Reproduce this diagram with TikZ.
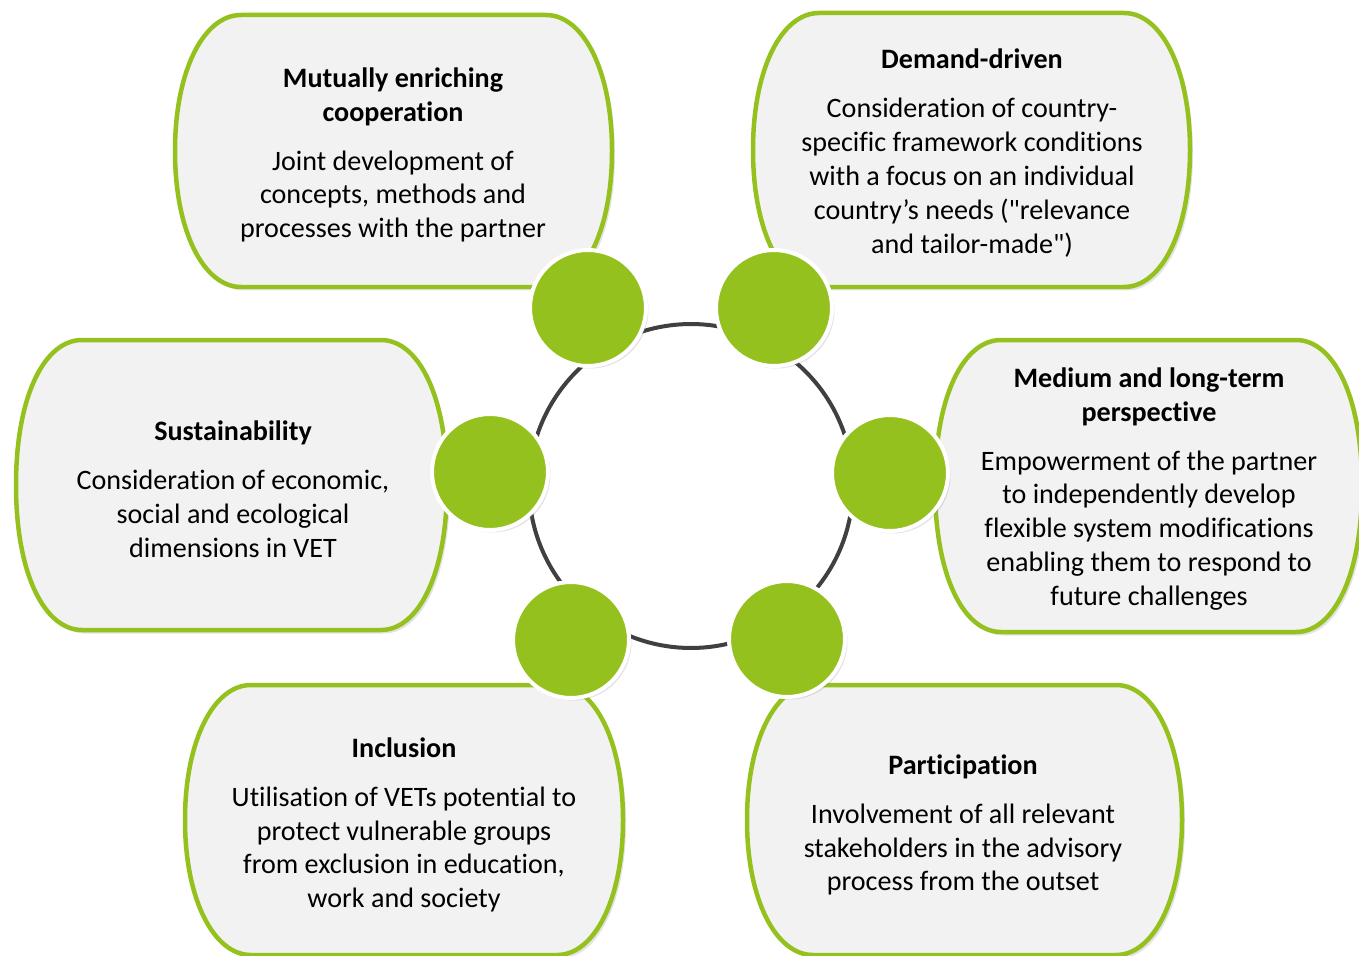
\documentclass[tikz,border=0pt]{standalone}
\usepackage{fontspec}
\setmainfont{Carlito}[Ligatures={NoCommon}]
\newfontfamily\qtfont{Carlito}
\usepackage{xcolor}
\usepackage{tikz}
\usetikzlibrary{shadows}
\usetikzlibrary{positioning}
\definecolor{vgreen}{RGB}{149,193,31}
\definecolor{boxgray}{RGB}{242,242,242}
\definecolor{ringgray}{RGB}{64,64,64}
\tikzset{
    plaque/.style = {draw=vgreen, line width=0.09cm, fill=boxgray, drop shadow={opacity=0.22, shadow xshift=0.06cm, shadow yshift=-0.07cm}},
    dot/.style = {circle, draw=white, fill=vgreen, line width=0.08cm, minimum size=2.32cm, inner sep=0pt, drop shadow={opacity=0.22, shadow xshift=0.05cm, shadow yshift=-0.05cm}},
    hub/.style = {circle, draw=ringgray, fill=white, line width=0.08cm, minimum size=6.48cm, inner sep=0pt},
    boxtext/.style = {align=center, inner sep=0pt, font=\fontsize{16}{19.3}\selectfont},
}
\newcommand{\qt}{{\qtfont"}}
% left, top, right, bottom in px
\newcommand{\plaque}[4]{%
    \draw[plaque] (#1+66,#2) -- (#3-66,#2)
        .. controls (#3-29,#2) and (#3,#2+55) .. (#3,{(#2+#4)/2})
        .. controls (#3,#4-55) and (#3-29,#4) .. (#3-66,#4)
        -- (#1+66,#4)
        .. controls (#1+29,#4) and (#1,#4-55) .. (#1,{(#2+#4)/2})
        .. controls (#1,#2+55) and (#1+29,#2) .. cycle;
}
\begin{document}
\begin{tikzpicture}[
    x=0.02cm, y=-0.02cm
]
\useasboundingbox (0,0) rectangle (1359,956);
\clip (0,0) rectangle (1359,956);
\plaque{175}{15}{612}{287}
\plaque{753}{13}{1190}{287}
\plaque{16}{340}{447}{630}
\plaque{935}{340}{1362}{632}
\plaque{185}{685}{623}{955}
\plaque{747}{685}{1182}{955}
\node[hub] at (691,486) (centre) {};
\node[dot] at (588,308) (d1) {};
\node[dot] at (774,308) (d2) {};
\node[dot] at (490,472) (d3) {};
\node[dot] at (890,473) (d4) {};
\node[dot] at (571,640) (d5) {};
\node[dot] at (787,639) (d6) {};
\node[boxtext] at (393,155) (mutual) {\textbf{Mutually enriching}\\\textbf{cooperation}\\[8.5pt]Joint development of\\concepts, methods and\\processes with the partner};
\node[boxtext] at (972,153) (demand) {\textbf{Demand-driven}\\[8.5pt]Consideration of country-\\specific framework conditions\\with a focus on an individual\\country’s needs (\qt relevance\\and tailor-made\qt)};
\node[boxtext] at (233,489) (sustain) {\textbf{Sustainability}\\[8.5pt]Consideration of economic,\\social and ecological\\dimensions in VET};
\node[boxtext] at (1149,489) (longterm) {\textbf{Medium and long-term}\\\textbf{perspective}\\[8.5pt]Empowerment of the partner\\to independently develop\\flexible system modifications\\enabling them to respond to\\future challenges};
\node[boxtext] at (404,825) (inclusion) {\textbf{Inclusion}\\[8.5pt]Utilisation of VETs potential to\\protect vulnerable groups\\from exclusion in education,\\work and society};
\node[boxtext] at (963,825) (particip) {\textbf{Participation}\\[8.5pt]Involvement of all relevant\\stakeholders in the advisory\\process from the outset};
\end{tikzpicture}
\end{document}
